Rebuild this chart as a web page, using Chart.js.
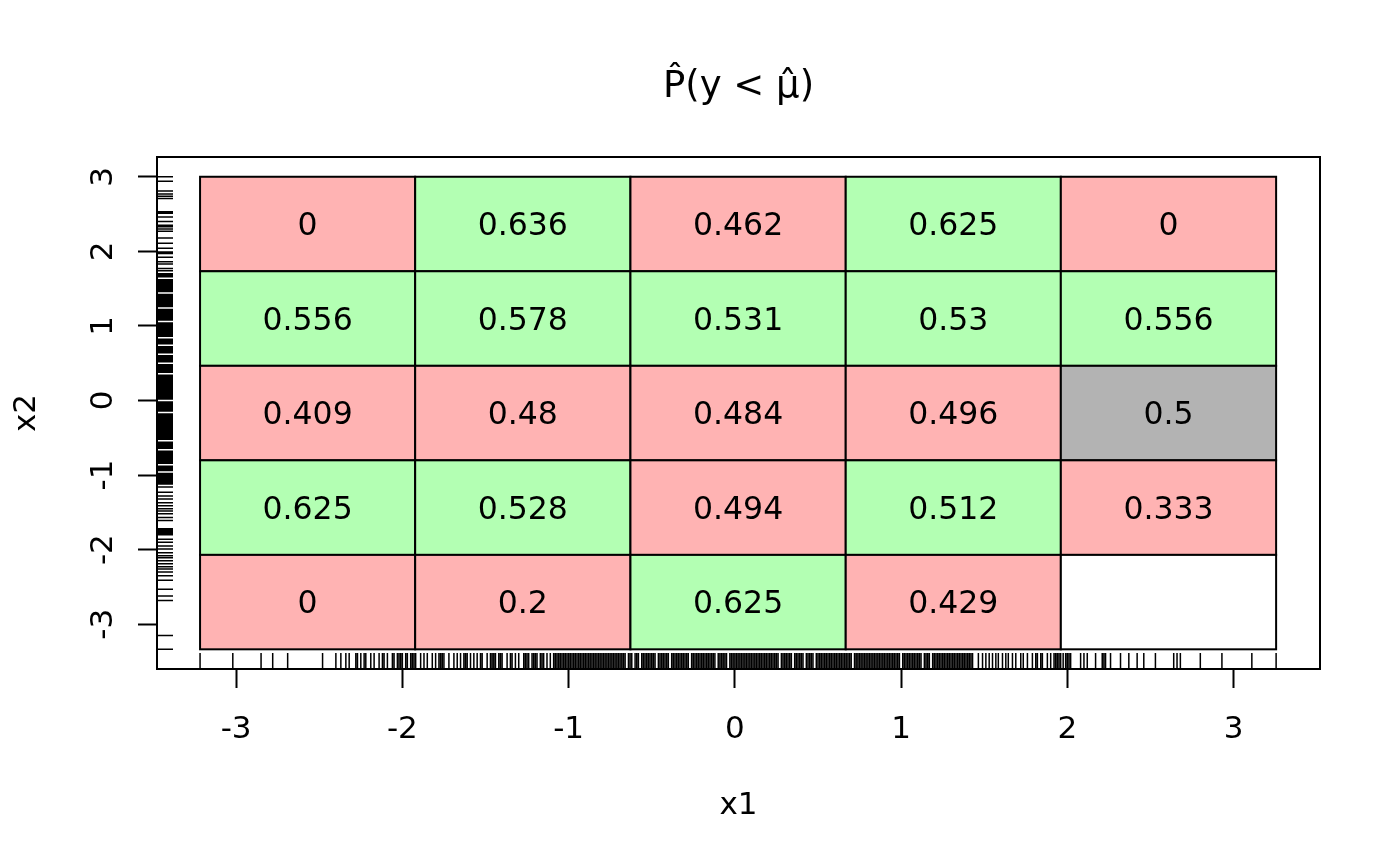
<!DOCTYPE html>
<html>
<head>
<meta charset="utf-8">
<script src="https://cdn.jsdelivr.net/npm/chart.js@4.4.0/dist/chart.umd.min.js"></script>
<style>
  body { margin: 0; background: #ffffff; }
  canvas { display: block; }
</style>
</head>
<body>
<canvas id="probChart" width="1400" height="865"></canvas>
<script>
// cell edges (x1 across, x2 up)
var xBreaks = [ -3.217, -1.923, -0.628, 0.667, 1.961, 3.256 ]
var yBreaks = [ -3.336, -2.07, -0.802, 0.465, 1.733, 3.0 ]

// estimated P(y < mu) per cell, rows listed from top to bottom
var row1 = [ 0, 0.636, 0.462, 0.625, 0 ]
var row2 = [ 0.556, 0.578, 0.531, 0.53, 0.556 ]
var row3 = [ 0.409, 0.48, 0.484, 0.496, 0.5 ]
var row4 = [ 0.625, 0.528, 0.494, 0.512, 0.333 ]
var row5 = [ 0, 0.2, 0.625, 0.429, null ]

var xTicks = [ -3, -2, -1, 0, 1, 2, 3 ]
var yTicks = [ -3, -2, -1, 0, 1, 2, 3 ]

// rug of observed x1 values (bottom)
var x1Rug = [
  -3.217, -3.02, -2.85, -2.78, -2.69, -2.48, -2.40, -2.37, -2.34, -2.32, -2.28, -2.27, -2.25, -2.23, -2.22,
  -2.19, -2.17, -2.14, -2.12, -2.11, -2.09, -2.06, -2.05, -2.03, -2.02, -2.01, -2.00, -1.98, -1.97, -1.95,
  -1.94, -1.93, -1.92, -1.89, -1.87, -1.85, -1.82, -1.80, -1.78, -1.77, -1.76, -1.75, -1.72, -1.69, -1.67,
  -1.65, -1.63, -1.62, -1.61, -1.59, -1.57, -1.55, -1.53, -1.52, -1.49, -1.47, -1.46, -1.45, -1.44, -1.42,
  -1.41, -1.40, -1.37, -1.35, -1.34, -1.32, -1.30, -1.27, -1.26, -1.25, -1.24, -1.22, -1.21, -1.20, -1.19,
  -1.17, -1.16, -1.15, -1.13, -1.11,
  -1.09, -1.08, -1.07, -1.06, -1.05, -1.04, -1.03, -1.02, -1.01, -1.00,
  -0.99, -0.98, -0.97, -0.96, -0.95, -0.94, -0.93, -0.92, -0.91, -0.90,
  -0.89, -0.88, -0.87, -0.86, -0.85, -0.84, -0.83, -0.82, -0.81, -0.80,
  -0.79, -0.78, -0.77, -0.76, -0.75, -0.74, -0.73, -0.72, -0.71, -0.70,
  -0.69, -0.68, -0.67, -0.66, -0.64, -0.63, -0.62, -0.60,
  -0.59, -0.58, -0.56, -0.55, -0.54, -0.53, -0.52, -0.51, -0.50,
  -0.49, -0.48, -0.46, -0.45, -0.44, -0.43, -0.42, -0.41, -0.40,
  -0.38, -0.37, -0.36, -0.35, -0.34, -0.33, -0.32, -0.31, -0.30,
  -0.29, -0.28, -0.26, -0.25, -0.24, -0.23, -0.22, -0.21, -0.20,
  -0.19, -0.18, -0.17, -0.16, -0.15, -0.14, -0.13, -0.12, -0.10,
  -0.09, -0.08, -0.07, -0.06, -0.05, -0.03, -0.02, -0.01, 0.00,
  0.01, 0.02, 0.03, 0.04, 0.05, 0.06, 0.07, 0.08, 0.09, 0.10,
  0.11, 0.12, 0.13, 0.14, 0.15, 0.16, 0.17, 0.18, 0.19, 0.20,
  0.21, 0.22, 0.23, 0.24, 0.25, 0.26, 0.28, 0.29, 0.30,
  0.31, 0.32, 0.33, 0.34, 0.36, 0.37, 0.38, 0.39, 0.40,
  0.41, 0.43, 0.44, 0.45, 0.46, 0.47, 0.49, 0.50,
  0.51, 0.52, 0.53, 0.54, 0.55, 0.56, 0.57, 0.58, 0.59, 0.60,
  0.61, 0.62, 0.63, 0.64, 0.65, 0.66, 0.67, 0.68, 0.69, 0.70,
  0.72, 0.73, 0.74, 0.75, 0.76, 0.77, 0.78, 0.79, 0.80,
  0.81, 0.82, 0.83, 0.84, 0.85, 0.86, 0.87, 0.88, 0.89, 0.90,
  0.91, 0.92, 0.93, 0.94, 0.95, 0.96, 0.97, 0.98, 0.99,
  1.01, 1.02, 1.03, 1.04, 1.05, 1.06, 1.07, 1.08, 1.09, 1.10,
  1.11, 1.12, 1.14, 1.15, 1.16, 1.17, 1.19, 1.20,
  1.21, 1.22, 1.23, 1.24, 1.25, 1.26, 1.27, 1.28, 1.29, 1.30,
  1.31, 1.32, 1.33, 1.34, 1.35, 1.36, 1.37, 1.38, 1.39, 1.40,
  1.41, 1.42, 1.43,
  1.465, 1.49, 1.51, 1.53, 1.55, 1.57, 1.585, 1.61, 1.63, 1.645, 1.67, 1.69, 1.72, 1.735, 1.76,
  1.79, 1.81, 1.82, 1.84, 1.85, 1.88, 1.90, 1.92, 1.93, 1.94, 1.95, 1.96, 1.975, 1.99, 2.00,
  2.01, 2.02, 2.08, 2.10, 2.12, 2.17, 2.21, 2.22, 2.23, 2.26, 2.32, 2.37, 2.42, 2.46, 2.53,
  2.64, 2.66, 2.68, 2.80, 2.93, 3.11, 3.256
]

// rug of observed x2 values (left)
var x2Rug = [
  3.0, 2.94, 2.81, 2.77, 2.74, 2.71, 2.53, 2.51, 2.46, 2.40, 2.35, 2.33, 2.30, 2.27, 2.18,
  2.11, 2.04, 1.99, 1.97, 1.92, 1.86, 1.83, 1.77, 1.74, 1.70, 1.68, 1.66,
  1.62, 1.60, 1.58, 1.56, 1.54, 1.52, 1.50, 1.48, 1.46, 1.42, 1.40, 1.38, 1.36, 1.34, 1.32,
  1.30, 1.28, 1.26, 1.22, 1.20, 1.18, 1.16, 1.14, 1.12, 1.10, 1.08, 1.04, 1.02, 1.00,
  0.98, 0.96, 0.94, 0.92, 0.90, 0.88, 0.86, 0.82, 0.80, 0.78, 0.76, 0.72, 0.70, 0.68,
  0.66, 0.64, 0.60, 0.58, 0.56, 0.54, 0.52, 0.48, 0.46, 0.44, 0.42, 0.40, 0.38, 0.34,
  0.32, 0.30, 0.28, 0.26, 0.24, 0.22, 0.20, 0.18, 0.16, 0.14, 0.12, 0.10, 0.08, 0.06,
  0.04, 0.02, -0.02, -0.04, -0.06, -0.08, -0.10, -0.12, -0.14, -0.18, -0.20, -0.22, -0.24,
  -0.26, -0.28, -0.30, -0.32, -0.34, -0.36, -0.38, -0.40, -0.42, -0.44, -0.46, -0.48, -0.50,
  -0.52, -0.56, -0.58, -0.60, -0.62, -0.64, -0.68, -0.70, -0.72, -0.74, -0.76, -0.78, -0.80,
  -0.82, -0.84, -0.88, -0.90, -0.92, -0.94, -0.98, -1.00, -1.02, -1.04, -1.06, -1.08, -1.10,
  -1.12, -1.16, -1.23, -1.28, -1.32, -1.37, -1.41, -1.45, -1.48, -1.52, -1.57, -1.61, -1.72,
  -1.74, -1.76, -1.78, -1.80, -1.86, -1.90, -1.95, -1.99, -2.04, -2.08, -2.11, -2.15, -2.19,
  -2.23, -2.26, -2.30, -2.35, -2.41, -2.53, -2.62, -2.68, -3.15, -3.336
]

function cellColour (v) {
  if (v === null) return '#FFFFFF'
  if (v > 0.5) return '#B3FFB3'
  if (v < 0.5) return '#FFB3B3'
  return '#B3B3B3'
}

var cellPlugin = {
  id: 'cells',
  beforeDatasetsDraw: function (chart) {
    var ctx = chart.ctx
    var xs = chart.scales.x
    var ys = chart.scales.y
    var rows = [ row1, row2, row3, row4, row5 ]
    ctx.save()
    ctx.lineWidth = 2
    ctx.strokeStyle = '#000000'
    ctx.font = '31.5px "DejaVu Sans"'
    ctx.textAlign = 'center'
    ctx.textBaseline = 'middle'
    for (var r = 0; r < rows.length; r++) {
      var top = ys.getPixelForValue(yBreaks[yBreaks.length - 1 - r])
      var bot = ys.getPixelForValue(yBreaks[yBreaks.length - 2 - r])
      for (var c = 0; c < rows[r].length; c++) {
        var left = xs.getPixelForValue(xBreaks[c])
        var right = xs.getPixelForValue(xBreaks[c + 1])
        var v = rows[r][c]
        ctx.fillStyle = cellColour(v)
        ctx.fillRect(left, top, right - left, bot - top)
        ctx.strokeRect(left, top, right - left, bot - top)
        if (v !== null) {
          ctx.fillStyle = '#000000'
          ctx.fillText(String(v), (left + right) / 2, (top + bot) / 2 + 3)
        }
      }
    }
    ctx.restore()
  },
  afterDraw: function (chart) {
    var ctx = chart.ctx
    var area = chart.chartArea
    var xs = chart.scales.x
    var ys = chart.scales.y
    ctx.save()
    ctx.strokeStyle = '#000000'
    ctx.lineWidth = 1.5
    ctx.beginPath()
    x1Rug.forEach(function (v) {
      var px = xs.getPixelForValue(v)
      ctx.moveTo(px, area.bottom)
      ctx.lineTo(px, area.bottom - 16)
    })
    x2Rug.forEach(function (v) {
      var py = ys.getPixelForValue(v)
      ctx.moveTo(area.left, py)
      ctx.lineTo(area.left + 16, py)
    })
    ctx.stroke()
    ctx.lineWidth = 2
    ctx.strokeRect(area.left, area.top, area.right - area.left, area.bottom - area.top)
    ctx.restore()
  }
}

var tickFont = { family: 'DejaVu Sans', size: 31 }

var probChart = new Chart(document.getElementById('probChart'), {
  type: 'scatter',
  data: { datasets: [ { data: [], pointRadius: 0 } ] },
  options: {
    responsive: false,
    animation: false,
    devicePixelRatio: 1,
    layout: { padding: { top: 0, left: 0, right: 80, bottom: 0 } },
    plugins: {
      legend: { display: false },
      tooltip: { enabled: false },
      title: {
        display: true,
        fullSize: false,
        text: 'P\u0302(y < \u03BC\u0302)',
        color: '#000000',
        font: { family: 'DejaVu Sans', size: 37, weight: 'normal' },
        padding: { top: 65, bottom: 47.6 }
      }
    },
    scales: {
      x: {
        type: 'linear',
        min: -3.476,
        max: 3.52,
        afterFit: function (scale) { scale.height = 196 },
        afterBuildTicks: function (scale) { scale.ticks = xTicks.map(function (v) { return { value: v } }) },
        border: { display: false },
        grid: { drawOnChartArea: false, drawTicks: true, tickLength: 19, tickWidth: 2, tickColor: '#000000' },
        ticks: { color: '#000000', font: tickFont, padding: 23, maxRotation: 0 },
        title: { display: true, text: 'x1', color: '#000000', font: tickFont, padding: { top: 0, bottom: 40 } }
      },
      y: {
        type: 'linear',
        min: -3.60,
        max: 3.265,
        afterFit: function (scale) { scale.width = 157 },
        afterBuildTicks: function (scale) { scale.ticks = yTicks.map(function (v) { return { value: v } }) },
        border: { display: false },
        grid: { drawOnChartArea: false, drawTicks: true, tickLength: 19, tickWidth: 2, tickColor: '#000000' },
        ticks: { color: '#000000', font: tickFont, padding: 19, minRotation: 90, maxRotation: 90, crossAlign: 'center' },
        title: { display: true, text: 'x2', color: '#000000', font: tickFont, padding: { top: 8, bottom: 0 } }
      }
    }
  },
  plugins: [ cellPlugin ]
})
</script>
</body>
</html>
